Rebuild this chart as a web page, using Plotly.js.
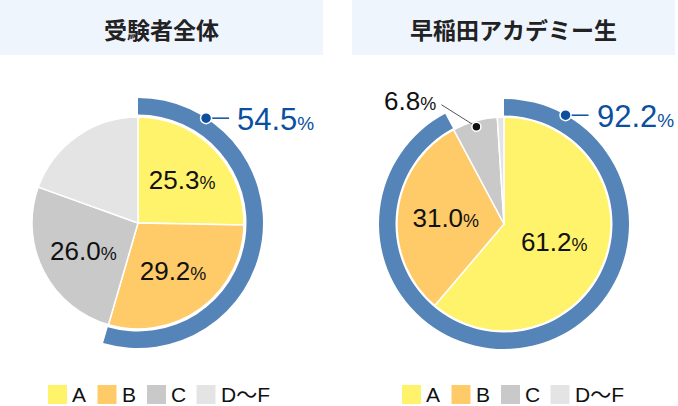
<!DOCTYPE html>
<html>
<head>
<meta charset="utf-8">
<script src="https://cdn.plot.ly/plotly-3.0.1.min.js"></script>
<style>html,body{margin:0;padding:0;background:#fff;}#chart{width:678px;height:406px;}</style>
</head>
<body>
<div id="chart"></div>
<script>
// ---- data ----
const categories = ['A', 'B', 'C', 'D〜F'];
const legendLabels = ['A', 'B', 'C', 'D〜F'];
const titles = ['受験者全体', '早稲田アカデミー生'];
const allExaminees = [25.3, 29.2, 26.0, 19.5];
const wasedaStudents = [61.2, 31.0, 6.8, 1.0];
const allExamineesAB = 54.5;
const wasedaStudentsAB = 92.2;

// ---- style ----
const W = 678, H = 406;
const colors = ['#FFF36B', '#FFCB69', '#C9C9C9', '#E4E4E4'];
const ringColor = '#5584B8';
const calloutColor = '#0B4FA0';
const CJK = '"Noto Sans CJK JP", "Noto Sans", sans-serif';
const NUM = '"Liberation Sans", Arial, "Noto Sans CJK JP", sans-serif';
const fx = x => x / W;
const fy = y => 1 - y / H;

const charts = [
  {cx: 138, cy: 223, r: 106, rOut: 125, rIn: 108.5, vals: allExaminees, ab: allExamineesAB,
   showInside: [true, true, true, false], calloutAngle: 33, titleBand: [0, 323], legendX: 48},
  {cx: 504, cy: 224, r: 107, rOut: 125, rIn: 108.5, vals: wasedaStudents, ab: wasedaStudentsAB,
   showInside: [true, true, false, false], calloutAngle: 29.5, titleBand: [352, 675], legendX: 402}
];

const pct = v => v.toFixed(1) + '<span style="font-size:18px">%</span>';

const traces = [];
const shapes = [];
const annotations = [];

charts.forEach((c, i) => {
  // ring (A+B share)
  traces.push({
    type: 'pie', values: [c.ab, 100 - c.ab], sort: false, direction: 'clockwise', rotation: 0,
    hole: c.rIn / c.rOut,
    marker: {colors: [ringColor, 'rgba(0,0,0,0)'], line: {width: 0}},
    textinfo: 'none', hoverinfo: 'skip', showlegend: false,
    domain: {x: [fx(c.cx - c.rOut), fx(c.cx + c.rOut)], y: [fy(c.cy + c.rOut), fy(c.cy - c.rOut)]}
  });
  // main pie
  traces.push({
    type: 'pie', labels: categories, values: c.vals, sort: false, direction: 'clockwise', rotation: 0,
    marker: {colors: colors, line: {color: '#FFFFFF', width: 1.5}},
    text: c.vals.map((v, k) => c.showInside[k] ? pct(v) : ''),
    textinfo: 'text', textposition: 'inside', insidetextorientation: 'horizontal',
    insidetextfont: {family: NUM, size: 26, color: '#111111'},
    hoverinfo: 'label+value', showlegend: false,
    domain: {x: [fx(c.cx - c.r), fx(c.cx + c.r)], y: [fy(c.cy + c.r), fy(c.cy - c.r)]}
  });

  // title band
  shapes.push({type: 'rect', xref: 'paper', yref: 'paper', x0: fx(c.titleBand[0]), x1: fx(c.titleBand[1]),
    y0: fy(55), y1: fy(0), fillcolor: '#EEF5FD', line: {width: 0}, layer: 'below'});
  annotations.push({xref: 'paper', yref: 'paper', x: fx((c.titleBand[0] + c.titleBand[1]) / 2), y: fy(29),
    xanchor: 'center', yanchor: 'middle', showarrow: false, text: '<b>' + titles[i] + '</b>',
    font: {family: CJK, size: 23, color: '#222222'}});

  // A+B callout
  const a = c.calloutAngle * Math.PI / 180;
  const dx = c.cx + c.rOut * Math.sin(a), dy = c.cy - c.rOut * Math.cos(a);
  shapes.push({type: 'line', xref: 'paper', yref: 'paper', x0: fx(dx), y0: fy(dy), x1: fx(dx + 23), y1: fy(dy),
    line: {color: calloutColor, width: 1.5}});
  shapes.push({type: 'circle', xref: 'paper', yref: 'paper', xsizemode: 'pixel', ysizemode: 'pixel',
    xanchor: fx(dx), yanchor: fy(dy), x0: -5.5, x1: 5.5, y0: -5.5, y1: 5.5,
    fillcolor: calloutColor, line: {color: '#FFFFFF', width: 1.5}});
  annotations.push({xref: 'paper', yref: 'paper', x: fx(dx + 29), y: fy(dy + 1), xanchor: 'left', yanchor: 'middle',
    showarrow: false, text: c.ab.toFixed(1) + '<span style="font-size:19px">%</span>',
    font: {family: NUM, size: 31, color: calloutColor}});

  // legend
  categories.forEach((cat, k) => {
    const lx = c.legendX + k * 49.5;
    shapes.push({type: 'rect', xref: 'paper', yref: 'paper', x0: fx(lx), x1: fx(lx + 19), y0: fy(404), y1: fy(385),
      fillcolor: colors[k], line: {width: 0}});
    annotations.push({xref: 'paper', yref: 'paper', x: fx(lx + 22), y: fy(394), xanchor: 'left', yanchor: 'middle',
      showarrow: false, text: legendLabels[k], font: {family: NUM, size: 21, color: '#111111'}});
  });
});

// outside label for the small C slice of the right chart
(function () {
  const c = charts[1];
  const before = c.vals[0] + c.vals[1];
  const mid = (before + c.vals[2] / 2) / 100 * 2 * Math.PI;
  const rr = c.r * 0.945;
  const px = c.cx + rr * Math.sin(mid), py = c.cy - rr * Math.cos(mid);
  shapes.push({type: 'line', xref: 'paper', yref: 'paper', x0: fx(px), y0: fy(py), x1: fx(px - 35), y1: fy(py - 22),
    line: {color: '#555555', width: 1}});
  shapes.push({type: 'circle', xref: 'paper', yref: 'paper', xsizemode: 'pixel', ysizemode: 'pixel',
    xanchor: fx(px), yanchor: fy(py), x0: -4.5, x1: 4.5, y0: -4.5, y1: 4.5,
    fillcolor: '#111111', line: {color: '#FFFFFF', width: 1.5}});
  annotations.push({xref: 'paper', yref: 'paper', x: fx(px - 38), y: fy(py - 26), xanchor: 'right', yanchor: 'middle',
    showarrow: false, text: pct(c.vals[2]), font: {family: NUM, size: 26, color: '#111111'}});
})();

const layout = {
  width: W, height: H, margin: {l: 0, r: 0, t: 0, b: 0},
  paper_bgcolor: '#FFFFFF', plot_bgcolor: '#FFFFFF',
  showlegend: false, shapes: shapes, annotations: annotations,
  font: {family: NUM}
};
Plotly.newPlot('chart', traces, layout, {staticPlot: true, displayModeBar: false});
</script>
</body>
</html>
